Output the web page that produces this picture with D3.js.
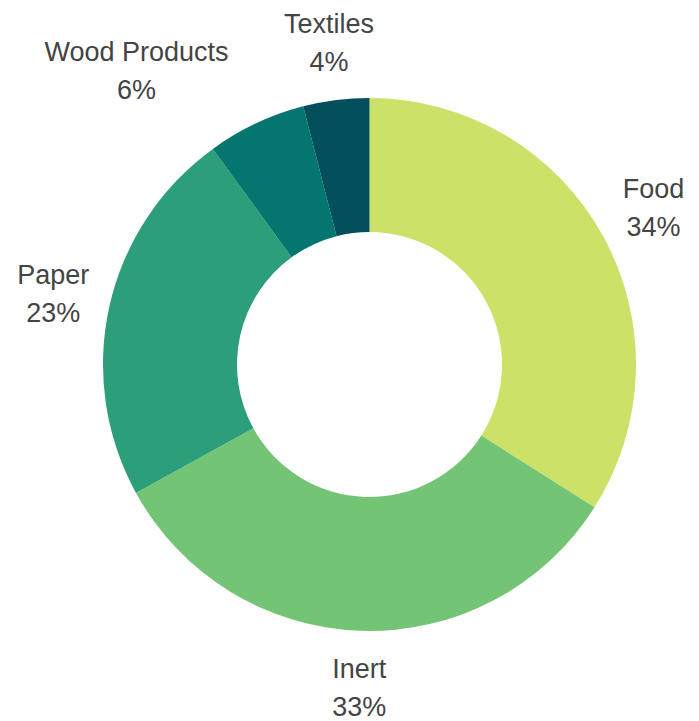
<!DOCTYPE html>
<html>
<head>
<meta charset="utf-8">
<script src="https://cdn.jsdelivr.net/npm/d3@7"></script>
<style>
  html, body { margin: 0; padding: 0; background: #fff; }
  svg { display: block; }
</style>
</head>
<body>
<svg id="chart" width="699" height="721"></svg>
<script>
const categories = ["Food", "Inert", "Paper", "Wood Products", "Textiles"];
const values = [34, 33, 23, 6, 4];
const colors = ["#cbe168", "#74c476", "#2c9e7a", "#04766f", "#034f5c"];

const W = 699, H = 721;
const cx = 369.5, cy = 364.5;
const outerR = 266.5, innerR = 132.5, labelR = 324;
const fontSize = 27, lineGap = 38;
// manual nudge to keep the small-slice labels from overlapping
const labelOffset = { "Wood Products": [-95, 0] };

const svg = d3.select("#chart");
const g = svg.append("g").attr("transform", `translate(${cx},${cy})`);

const data = categories.map((c, i) => ({ name: c, value: values[i], color: colors[i] }));
const total = d3.sum(values);

const pie = d3.pie().value(d => d.value).sort(null);
const arcs = pie(data);
const arc = d3.arc().innerRadius(innerR).outerRadius(outerR);
const labelArc = d3.arc().innerRadius(labelR).outerRadius(labelR);

g.selectAll("path.slice")
  .data(arcs)
  .enter().append("path")
  .attr("class", "slice")
  .attr("d", arc)
  .attr("fill", d => d.data.color);

const fmt = d => Math.round(d.data.value / total * 100) + "%";

const labels = g.selectAll("text.lbl")
  .data(arcs)
  .enter().append("text")
  .attr("class", "lbl")
  .attr("text-anchor", "middle")
  .attr("font-family", "'Liberation Sans', Arial, sans-serif")
  .attr("font-size", fontSize)
  .attr("fill", "#444444")
  .attr("transform", d => {
    const [x, y] = labelArc.centroid(d);
    const off = labelOffset[d.data.name] || [0, 0];
    return `translate(${x + off[0]},${y + off[1]})`;
  });

labels.append("tspan").attr("x", 0).attr("y", -10).text(d => d.data.name);
labels.append("tspan").attr("x", 0).attr("y", -10 + lineGap).text(fmt);
</script>
</body>
</html>
